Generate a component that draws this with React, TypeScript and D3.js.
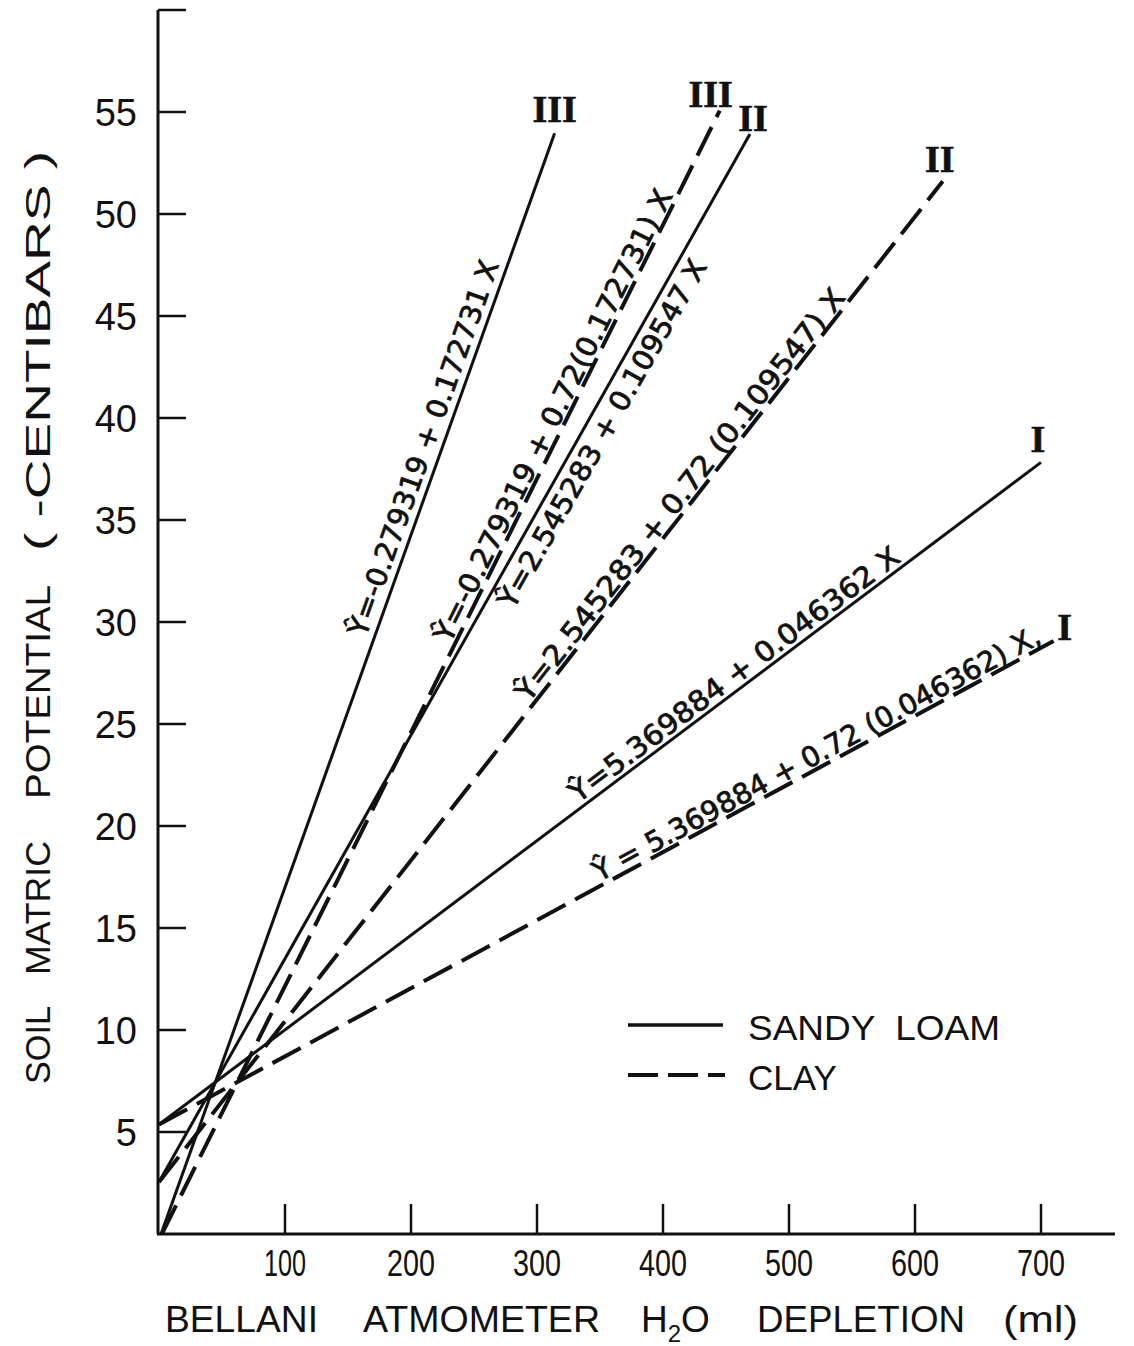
import React from "react";
import * as d3 from "d3";

// ---- data ----
const seriesNames = ["I", "II", "III"];
const intercepts = [5.369884, 2.545283, -0.279319];
const sandySlopes = [0.046362, 0.109547, 0.172731];
const clayFactor = 0.72;
const sandyEndX = [700, 469, 314];
const clayEndX = [710, 622, 445];
const sandyLabels = [
  "Ŷ=5.369884 + 0.046362 X",
  "Ŷ=2.545283 + 0.109547 X",
  "Ŷ=-0.279319 + 0.172731 X",
];
const clayLabels = [
  "Ŷ = 5.369884 + 0.72 (0.046362) X,",
  "Ŷ=2.545283 + 0.72 (0.109547) X",
  "Ŷ=-0.279319 + 0.72(0.172731) X",
];
const yTicks = [5, 10, 15, 20, 25, 30, 35, 40, 45, 50, 55, 60];
const yTickLabels = ["5", "10", "15", "20", "25", "30", "35", "40", "45", "50", "55", ""];
const xTicks = [100, 200, 300, 400, 500, 600, 700];
const yTitleWords = ["SOIL", "MATRIC", "POTENTIAL", "( -CENTIBARS )"];
const xTitleWords = ["BELLANI", "ATMOMETER", "DEPLETION", "(ml)"];
const legendItems = ["SANDY  LOAM", "CLAY"];

// ---- layout (positions / styles only) ----
const sandyLabelLayout = [
  { x0: 335, x1: 592, off: 5 },
  { x0: 262, x1: 416, off: -28 },
  { x0: 170, x1: 276, off: 8 },
];
const clayLabelLayout = [
  { x0: 351, x1: 703, off: 4 },
  { x0: 296, x1: 548, off: 4 },
  { x0: 234, x1: 411, off: 4 },
];
const sandyNumOff = [
  [-3, -22],
  [3, -15],
  [0, -23],
];
const clayNumOff = [
  [11, -13],
  [-3, -21],
  [-9, -16],
];
const yTitleLayout = [
  { c: 1045, l: 78 },
  { c: 908, l: 134 },
  { c: 692, l: 214 },
  { c: 351, l: 400 },
];
const xTitleLayout = [
  { a: 165, l: 153 },
  { a: 363, l: 237 },
  { a: 757, l: 208 },
  { a: 1003, l: 75 },
];

const W = 1134;
const H = 1346;
const x = d3.scaleLinear().domain([0, 700]).range([159, 1041]);
const y = d3.scaleLinear().domain([0, 55]).range([1234, 112]);
const axisX = 158;
const axisY = 1234;
const INK = "#111";
const sans = "Liberation Sans, Arial, sans-serif";

function lineY(i: number, clay: boolean, X: number) {
  const s = clay ? sandySlopes[i] * clayFactor : sandySlopes[i];
  return intercepts[i] + s * X;
}

function seriesPath(i: number, clay: boolean) {
  const s = clay ? sandySlopes[i] * clayFactor : sandySlopes[i];
  const x0 = intercepts[i] < 0 ? -intercepts[i] / s : 0;
  const x1 = clay ? clayEndX[i] : sandyEndX[i];
  const gen = d3
    .line<number>()
    .x((d) => x(d))
    .y((d) => y(lineY(i, clay, d)));
  return gen([x0, x1]) as string;
}

function EqLabel({ i, clay }: { i: number; clay: boolean }) {
  const lay = clay ? clayLabelLayout[i] : sandyLabelLayout[i];
  const txt = clay ? clayLabels[i] : sandyLabels[i];
  const px0 = x(lay.x0);
  const py0 = y(lineY(i, clay, lay.x0));
  const px1 = x(lay.x1);
  const py1 = y(lineY(i, clay, lay.x1));
  const th = Math.atan2(py0 - py1, px1 - px0);
  const len = Math.hypot(px1 - px0, py1 - py0);
  const nx = -Math.sin(th);
  const ny = -Math.cos(th);
  const tx = px0 + nx * lay.off;
  const ty = py0 + ny * lay.off;
  return (
    <text
      transform={`translate(${tx},${ty}) rotate(${(-th * 180) / Math.PI})`}
      fontFamily="DejaVu Sans, sans-serif"
      fontSize={28}
      fill={INK}
      stroke={INK}
      strokeWidth={0.8}
      textLength={len}
      lengthAdjust="spacingAndGlyphs"
    >
      {txt}
    </text>
  );
}

function Numeral({ i, clay }: { i: number; clay: boolean }) {
  const X = clay ? clayEndX[i] : sandyEndX[i];
  const off = clay ? clayNumOff[i] : sandyNumOff[i];
  const cx = x(X) + off[0];
  const cy = y(lineY(i, clay, X)) + off[1];
  return (
    <text
      x={cx}
      y={cy + 12}
      textAnchor="middle"
      fontFamily="Liberation Serif, serif"
      fontWeight="bold"
      fontSize={38}
      fill={INK}
      stroke={INK}
      strokeWidth={0.6}
    >
      {seriesNames[i]}
    </text>
  );
}

export default function App() {
  return (
    <svg
      width={W}
      height={H}
      viewBox={`0 0 ${W} ${H}`}
      style={{ position: "absolute", left: 0, top: 0, background: "#fff" }}
    >
      <rect x={0} y={0} width={W} height={H} fill="#fff" />
      {/* axes */}
      <line x1={axisX} y1={y(60)} x2={axisX} y2={axisY} stroke={INK} strokeWidth={3} />
      <line x1={axisX - 1} y1={axisY} x2={1115} y2={axisY} stroke={INK} strokeWidth={3} />
      {yTicks.map((t, k) => (
        <g key={"yt" + t}>
          <line x1={axisX} x2={axisX + 28} y1={y(t)} y2={y(t)} stroke={INK} strokeWidth={2.5} />
          {yTickLabels[k] && (
            <text x={137} y={y(t) + 14} textAnchor="end" fontFamily={sans} fontSize={38} fill={INK}>
              {yTickLabels[k]}
            </text>
          )}
        </g>
      ))}
      {xTicks.map((t) => (
        <g key={"xt" + t}>
          <line x1={x(t)} x2={x(t)} y1={axisY} y2={axisY - 30} stroke={INK} strokeWidth={2.5} />
          <text
            x={x(t)}
            y={1276}
            textAnchor="middle"
            fontFamily={sans}
            fontSize={37}
            fill={INK}
            textLength={t === 100 ? 42 : 48}
            lengthAdjust="spacingAndGlyphs"
          >
            {String(t)}
          </text>
        </g>
      ))}
      {/* axis titles */}
      {yTitleWords.map((w, k) => (
        <text
          key={w}
          transform={`translate(50,${yTitleLayout[k].c}) rotate(-90)`}
          textAnchor="middle"
          fontFamily={sans}
          fontSize={35}
          fill={INK}
          style={{ whiteSpace: "pre" }}
          textLength={yTitleLayout[k].l}
          lengthAdjust="spacingAndGlyphs"
        >
          {w}
        </text>
      ))}
      {xTitleWords.map((w, k) => (
        <text
          key={w}
          x={xTitleLayout[k].a}
          y={1332}
          fontFamily={sans}
          fontSize={37}
          fill={INK}
          textLength={xTitleLayout[k].l}
          lengthAdjust="spacingAndGlyphs"
        >
          {w}
        </text>
      ))}
      <text x={641} y={1332} fontFamily={sans} fontSize={37} fill={INK}>
        H<tspan fontSize={24} dy={10}>2</tspan>
        <tspan dy={-10}>O</tspan>
      </text>
      {/* series lines */}
      {seriesNames.map((_, i) => (
        <g key={"s" + i}>
          <path d={seriesPath(i, false)} fill="none" stroke={INK} strokeWidth={3} />
          <path
            d={seriesPath(i, true)}
            fill="none"
            stroke={INK}
            strokeWidth={4}
            strokeDasharray="32,11"
          />
          <EqLabel i={i} clay={false} />
          <EqLabel i={i} clay={true} />
          <Numeral i={i} clay={false} />
          <Numeral i={i} clay={true} />
        </g>
      ))}
      {/* legend */}
      <line x1={628} x2={723} y1={1025} y2={1025} stroke={INK} strokeWidth={3.5} />
      <line x1={628} x2={725} y1={1075} y2={1075} stroke={INK} strokeWidth={4} strokeDasharray="30,10" />
      <text
        x={748}
        y={1040}
        fontFamily={sans}
        fontSize={35}
        fill={INK}
        style={{ whiteSpace: "pre" }}
        textLength={252}
        lengthAdjust="spacingAndGlyphs"
      >
        {legendItems[0]}
      </text>
      <text x={748} y={1090} fontFamily={sans} fontSize={35} fill={INK}>
        {legendItems[1]}
      </text>
    </svg>
  );
}
